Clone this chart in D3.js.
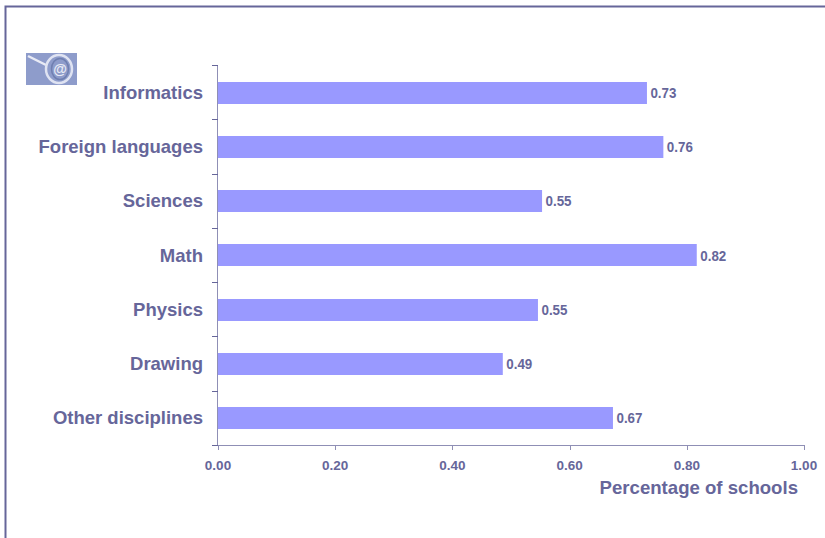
<!DOCTYPE html>
<html><head><meta charset="utf-8">
<script src="https://cdn.jsdelivr.net/npm/d3@7"></script>
<style>html,body{margin:0;padding:0;background:#fff}svg{display:block}text{font-family:"Liberation Sans",Arial,sans-serif;font-weight:700;fill:#66669a}</style>
</head><body><svg id="c" width="825" height="538"></svg>
<script>
const categories=["Informatics","Foreign languages","Sciences","Math","Physics","Drawing","Other disciplines"];
const values=[0.732,0.760,0.553,0.817,0.546,0.486,0.674];
const xTicks=[0,0.2,0.4,0.6,0.8,1.0];
const xTitle="Percentage of schools";
const svg=d3.select("#c");
const ink="#66669a",axisInk="#8f8fb5";
// frame
svg.append("path").attr("d","M5.5,538V6.5H825").attr("fill","none").attr("stroke",ink).attr("stroke-width",2);
// icon
const ic=svg.append("g");
ic.append("rect").attr("x",26).attr("y",53).attr("width",51).attr("height",32).attr("fill","#8e9ccb");
ic.append("line").attr("x1",28).attr("y1",56).attr("x2",46).attr("y2",65).attr("stroke","#e8ebf5").attr("stroke-width",2.5);
ic.append("ellipse").attr("cx",59).attr("cy",69).attr("rx",13).attr("ry",14).attr("fill","none").attr("stroke","#dfe3f2").attr("stroke-width",2.5);
ic.append("ellipse").attr("cx",60).attr("cy",69).attr("rx",8.5).attr("ry",10.5).attr("fill","none").attr("stroke","#6f7fb0").attr("stroke-width",1.5);
ic.append("text").attr("x",60).attr("y",74).attr("text-anchor","middle").attr("font-size",14).style("fill","#e8ebf5").text("@");
const x=d3.scaleLinear().domain([0,1]).range([218,804]);
const y=d3.scaleBand().domain(categories).range([65,445]);
// bars
svg.append("g").selectAll("rect").data(values).join("rect")
 .attr("x",x(0)).attr("y",(d,i)=>Math.round(y(categories[i])+y.bandwidth()/2-11+0.4))
 .attr("width",d=>x(d)-x(0)).attr("height",22).attr("fill","#9999ff");
// y axis
const ya=svg.append("g");
ya.append("line").attr("x1",217.5).attr("x2",217.5).attr("y1",65).attr("y2",445).attr("stroke",axisInk);
ya.selectAll("line.t").data(d3.range(8)).join("line").attr("class","t")
 .attr("x1",212).attr("x2",218).attr("y1",i=>Math.round(65+i*y.step())+0.5).attr("y2",i=>Math.round(65+i*y.step())+0.5).attr("stroke",ink);
svg.append("g").selectAll("text").data(categories).join("text")
 .attr("x",203).attr("y",d=>y(d)+y.bandwidth()/2+6.5).attr("text-anchor","end").attr("font-size",18.5).text(d=>d);
// x axis
const xa=svg.append("g");
xa.append("line").attr("x1",218).attr("x2",804.5).attr("y1",445.5).attr("y2",445.5).attr("stroke",axisInk);
xa.selectAll("line.t").data(xTicks).join("line").attr("class","t")
 .attr("x1",d=>Math.round(x(d))+0.5).attr("x2",d=>Math.round(x(d))+0.5).attr("y1",445).attr("y2",450).attr("stroke",axisInk);
xa.selectAll("text").data(xTicks).join("text").attr("x",d=>x(d)).attr("y",470).attr("text-anchor","middle").attr("font-size",13.5).text(d=>d.toFixed(2));
// value labels
svg.append("g").selectAll("text").data(values).join("text")
 .attr("x",d=>x(d)+3.5).attr("y",(d,i)=>y(categories[i])+y.bandwidth()/2+5.5).attr("font-size",15).attr("textLength",26).attr("lengthAdjust","spacingAndGlyphs").text(d=>d.toFixed(2));
svg.append("text").attr("x",798).attr("y",494).attr("text-anchor","end").attr("font-size",18.6).text(xTitle);
</script></body></html>
